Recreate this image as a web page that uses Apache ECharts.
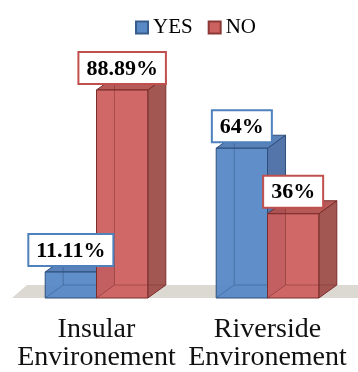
<!DOCTYPE html>
<html>
<head>
<meta charset="utf-8">
<script src="https://cdn.jsdelivr.net/npm/echarts@6/dist/echarts.min.js"></script>
<style>
  html, body { margin: 0; padding: 0; background: #fff; }
  #chart { width: 358px; height: 372px; }
</style>
</head>
<body>
<div id="chart"></div>
<script>
// Survey answers per environment, in percent
const categories = ['Insular\nEnvironement', 'Riverside\nEnvironement'];
const seriesNames = ['YES', 'NO'];
const yesValues = [11.11, 64];
const noValues = [88.89, 36];

// Colours of the pseudo-3D boxes
const palettes = {
  YES: { front: 'rgba(86,136,198,0.95)', side: 'rgba(74,110,164,0.95)', top: 'rgba(80,122,182,0.95)', edge: '#2e4f7c', label: '#4f81bd' },
  NO:  { front: 'rgba(203,93,91,0.93)', side: 'rgba(158,78,74,0.95)', top: 'rgba(178,80,78,0.95)', edge: '#7a2e2c', label: '#c0504d' }
};

const DEPTH_X = 18, DEPTH_Y = -13;   // oblique depth of boxes and floor
const BAR_RATIO = 0.3;               // bar width as share of a category band

function boxGeometry(api, side) {
  const ci = api.value(0), v = api.value(1);
  const base = api.coord([ci, 0]);
  const top = api.coord([ci, v]);
  const band = api.size([1, 0])[0];
  const w = band * BAR_RATIO;
  const x0 = side < 0 ? base[0] - w : base[0];
  return { v: v, x0: x0, x1: x0 + w, yb: base[1], yt: top[1] };
}

function boxRenderer(name, side) {
  const pal = palettes[name];
  return function (params, api) {
    const g = boxGeometry(api, side);
    const dx = DEPTH_X, dy = DEPTH_Y;
    const edge = { stroke: pal.edge, lineWidth: 1 };
    return {
      type: 'group',
      children: [
        { type: 'polygon', shape: { points: [[g.x1, g.yb], [g.x1 + dx, g.yb + dy], [g.x1 + dx, g.yt + dy], [g.x1, g.yt]] },
          style: Object.assign({ fill: pal.side }, edge) },
        { type: 'polygon', shape: { points: [[g.x0, g.yt], [g.x0 + dx, g.yt + dy], [g.x1 + dx, g.yt + dy], [g.x1, g.yt]] },
          style: Object.assign({ fill: pal.top }, edge) },
        { type: 'rect', shape: { x: g.x0, y: g.yt, width: g.x1 - g.x0, height: g.yb - g.yt },
          style: Object.assign({ fill: pal.front }, edge) },
        // hidden back edges, seen through the translucent faces
        { type: 'polyline', shape: { points: [[g.x0, g.yb], [g.x0 + dx, g.yb + dy], [g.x0 + dx, g.yt + dy]] },
          style: { stroke: pal.edge, lineWidth: 1, opacity: 0.45, fill: null } },
        { type: 'line', shape: { x1: g.x0 + dx, y1: g.yb + dy, x2: g.x1 + dx, y2: g.yb + dy },
          style: { stroke: pal.edge, lineWidth: 1, opacity: 0.45 } }
      ]
    };
  };
}

function labelRenderer(name, side) {
  const pal = palettes[name];
  return function (params, api) {
    const g = boxGeometry(api, side);
    return {
      type: 'text',
      x: (g.x0 + g.x1) / 2,
      y: g.yt - 7,
      style: {
        text: g.v + '%',
        fill: '#000',
        font: 'bold 22px "Liberation Serif"',
        align: 'center',
        verticalAlign: 'bottom',
        backgroundColor: '#fff',
        borderColor: pal.label,
        borderWidth: 2,
        padding: [5, 7, 3, 7]
      }
    };
  };
}

function floorRenderer(params, api) {
  const cs = params.coordSys;
  const yb = cs.y + cs.height;
  const xl = cs.x + 1, xr = cs.x + cs.width + 5;
  return {
    type: 'polygon',
    shape: { points: [[xl, yb], [xr, yb], [xr, yb - 13], [xl + 15, yb - 13]] },
    style: { fill: '#dcd9d2' }
  };
}

const toData = vals => vals.map((v, i) => [i, v]);

const chart = echarts.init(document.getElementById('chart'), null, { renderer: 'canvas' });
chart.setOption({
  animation: false,
  backgroundColor: '#fff',
  legend: {
    data: seriesNames,
    left: 135,
    top: 17,
    padding: 0,
    icon: 'rect',
    itemWidth: 12,
    itemHeight: 12,
    itemGap: 15,
    textStyle: { fontFamily: 'Liberation Serif', fontSize: 21, color: '#000' }
  },
  grid: { left: 11, top: 64, width: 342, height: 236 },
  xAxis: {
    type: 'category',
    data: categories,
    axisLine: { show: false },
    axisTick: { show: false },
    axisLabel: {
      interval: 0,
      margin: 18,
      fontFamily: 'Liberation Serif',
      fontSize: 28,
      lineHeight: 28,
      color: '#111'
    }
  },
  yAxis: { type: 'value', min: 0, max: 100, show: false, splitLine: { show: false } },
  series: [
    { type: 'custom', name: 'floor', silent: true, z: 1, data: [[0, 0]], renderItem: floorRenderer },
    { type: 'custom', name: 'YES', z: 2, data: toData(yesValues), renderItem: boxRenderer('YES', -1),
      itemStyle: { color: '#5a8ac6', borderColor: '#385d8a', borderWidth: 1 } },
    { type: 'custom', name: 'NO', z: 3, data: toData(noValues), renderItem: boxRenderer('NO', 1),
      itemStyle: { color: '#cc6260', borderColor: '#8c3836', borderWidth: 1 } },
    { type: 'custom', name: 'YES labels', silent: true, z: 10, data: toData(yesValues), renderItem: labelRenderer('YES', -1) },
    { type: 'custom', name: 'NO labels', silent: true, z: 10, data: toData(noValues), renderItem: labelRenderer('NO', 1) }
  ]
});
</script>
</body>
</html>
